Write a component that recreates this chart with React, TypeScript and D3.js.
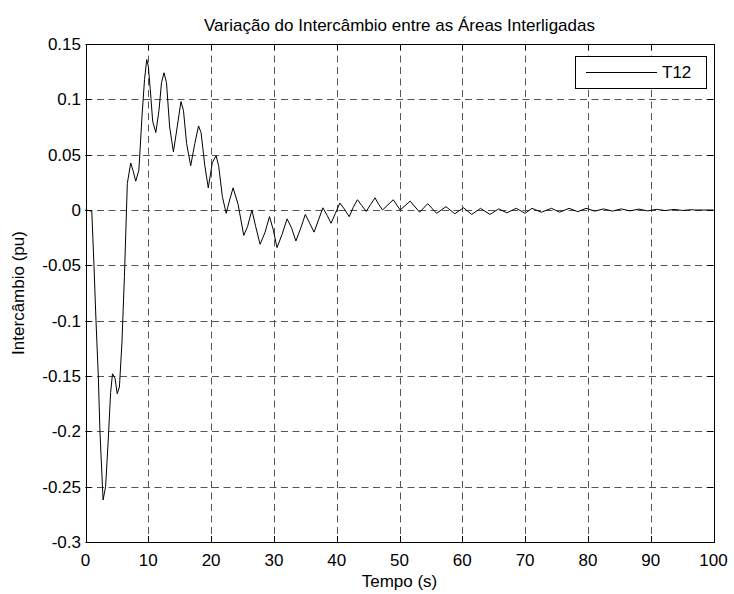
import React from "react";
import * as d3 from "d3";

const timeS: number[] = [
  0, 1.0, 1.35, 1.67, 2.04, 2.3, 2.8, 3.2, 3.6, 4.0, 4.3, 4.7, 5.05, 5.4, 5.8, 6.2, 6.66, 7.2, 7.6, 8.0,
  8.5, 9.0, 9.4, 9.75, 10.0, 10.3, 10.7, 11.2, 11.7, 12.1, 12.5, 12.9, 13.4, 14.0, 14.6, 15.2, 15.6, 16.1,
  16.75, 17.4, 18.0, 18.4, 19.0, 19.55, 20.2, 20.8, 21.2, 21.8, 22.4, 23.0, 23.5, 24.3, 25.2, 25.8, 26.5,
  27.1, 27.8, 28.6, 29.3, 29.9, 30.5, 31.3, 32.1, 32.8, 33.5, 34.3, 35.0, 35.7, 36.4, 37.1, 37.8, 38.5,
  39.1, 39.8, 40.5, 41.2, 42.0, 42.6, 43.3, 44.0, 44.7, 45.4, 46.1, 46.7, 47.3, 49.0, 50.1, 51.7, 53.2,
  54.5, 55.9, 57.4, 58.8, 60.2, 61.5, 62.9, 64.4, 65.8, 67.1, 68.6, 70.0, 71.1, 72.6, 74.2, 75.5, 77.0,
  78.4, 79.7, 81.1, 82.5, 83.9, 85.3, 86.7, 88.1, 89.5, 90.9, 92.3, 93.7, 95.1, 96.5, 97.0, 100,
];

const t12Values: number[] = [
  0, -0.001, -0.05, -0.1, -0.15, -0.2, -0.262, -0.25, -0.21, -0.165, -0.148, -0.152, -0.166, -0.16, -0.12,
  -0.06, 0.024, 0.0425, 0.035, 0.026, 0.036, 0.085, 0.118, 0.136, 0.13, 0.11, 0.08, 0.07, 0.09, 0.115,
  0.124, 0.115, 0.075, 0.0525, 0.075, 0.098, 0.09, 0.06, 0.04, 0.06, 0.076, 0.07, 0.04, 0.02, 0.043, 0.049,
  0.04, 0.012, -0.003, 0.01, 0.02, 0.005, -0.023, -0.015, 0.0, -0.015, -0.031, -0.02, -0.006, -0.018,
  -0.034, -0.022, -0.008, -0.016, -0.028, -0.016, -0.004, -0.012, -0.02, -0.009, 0.002, -0.005, -0.012,
  -0.003, 0.0063, 0.001, -0.006, 0.002, 0.0093, 0.004, -0.0013, 0.005, 0.011, 0.005, 0.0, 0.0093, 0.0,
  0.008, -0.002, 0.0057, -0.003, 0.003, -0.0034, 0.002, -0.004, 0.0015, -0.004, 0.001, -0.0025, 0.0015,
  -0.003, 0.0015, -0.002, 0.0015, -0.002, 0.0015, -0.0015, 0.0015, -0.001, 0.001, -0.001, 0.001, -0.0008,
  0.0008, -0.0008, 0.0006, -0.0005, 0.0005, -0.0004, 0.0003, 0, 0,
];

const xTicks: number[] = [0, 10, 20, 30, 40, 50, 60, 70, 80, 90, 100];
const yTicks: number[] = [0.15, 0.1, 0.05, 0, -0.05, -0.1, -0.15, -0.2, -0.25, -0.3];
const yTickLabels: string[] = ["0.15", "0.1", "0.05", "0", "-0.05", "-0.1", "-0.15", "-0.2", "-0.25", "-0.3"];

const titleText = "Variação do Intercâmbio entre as Áreas Interligadas";
const xLabel = "Tempo (s)";
const yLabel = "Intercâmbio (pu)";
const seriesName = "T12";

export default function App() {
  const W = 734, H = 594;
  const L = 85.5, R = 713.5, T = 44, B = 542;
  const x = d3.scaleLinear().domain([0, 100]).range([L, R]);
  const y = d3.scaleLinear().domain([-0.3, 0.15]).range([B, T]);
  const data = timeS.map((t, i) => [t, t12Values[i]] as [number, number]);
  const line = d3.line<[number, number]>().x((d) => x(d[0])).y((d) => y(d[1]));
  const font = "'Liberation Sans', Arial, Helvetica, sans-serif";
  const fs = 17;
  const tickLen = 6;
  const r = (v: number) => Math.round(v) + 0.5;

  return (
    <div style={{ position: "fixed", left: 0, top: 0 }}>
      <svg width={W} height={H} style={{ display: "block", background: "#fff" }} fontFamily={font}>
        <rect x={0} y={0} width={W} height={H} fill="#fff" />
        {/* grid */}
        {xTicks.slice(1, -1).map((t) => (
          <line key={"gx" + t} x1={r(x(t))} x2={r(x(t))} y1={T} y2={B} stroke="#555" strokeWidth={1} strokeDasharray="7,4.5" />
        ))}
        {yTicks.slice(1, -1).map((t) => (
          <line key={"gy" + t} x1={L} x2={R} y1={r(y(t))} y2={r(y(t))} stroke="#555" strokeWidth={1} strokeDasharray="7,4.5" />
        ))}
        {/* ticks */}
        {xTicks.map((t) => (
          <g key={"tx" + t}>
            <line x1={r(x(t))} x2={r(x(t))} y1={B} y2={B - tickLen} stroke="#000" />
            <line x1={r(x(t))} x2={r(x(t))} y1={T} y2={T + tickLen} stroke="#000" />
            <text x={x(t)} y={566} textAnchor="middle" fontSize={fs} fill="#000">{t}</text>
          </g>
        ))}
        {yTicks.map((t, i) => (
          <g key={"ty" + t}>
            <line x1={L} x2={L + tickLen} y1={r(y(t))} y2={r(y(t))} stroke="#000" />
            <line x1={R} x2={R - tickLen} y1={r(y(t))} y2={r(y(t))} stroke="#000" />
            <text x={81} y={y(t)} dy="0.35em" textAnchor="end" fontSize={fs} fill="#000">{yTickLabels[i]}</text>
          </g>
        ))}
        {/* data */}
        <path d={line(data) || ""} fill="none" stroke="#000" strokeWidth={1} strokeLinejoin="round" />
        {/* frame */}
        <rect x={r(L)} y={r(T)} width={Math.round(R - L)} height={Math.round(B - T)} fill="none" stroke="#000" strokeWidth={1} />
        {/* legend */}
        <rect x={575.5} y={56.5} width={131} height={32} fill="#fff" stroke="#000" strokeWidth={1} />
        <line x1={586} x2={657} y1={72.5} y2={72.5} stroke="#000" strokeWidth={1} />
        <text x={662} y={72.5} dy="0.35em" fontSize={fs} fill="#000">{seriesName}</text>
        {/* labels */}
        <text x={(L + R) / 2} y={31} textAnchor="middle" fontSize={fs} fill="#000">{titleText}</text>
        <text x={(L + R) / 2} y={587} textAnchor="middle" fontSize={fs} fill="#000">{xLabel}</text>
        <text transform={`translate(24, ${(T + B) / 2}) rotate(-90)`} textAnchor="middle" fontSize={fs} fill="#000">{yLabel}</text>
      </svg>
    </div>
  );
}
